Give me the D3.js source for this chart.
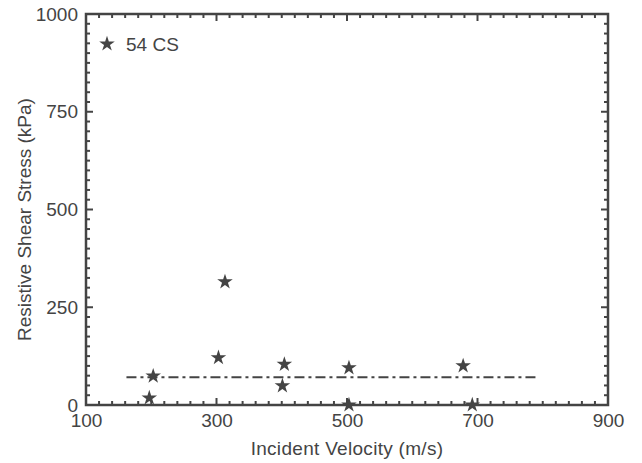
<!DOCTYPE html>
<html>
<head>
<meta charset="utf-8">
<script src="https://cdn.jsdelivr.net/npm/d3@7"></script>
<style>
body { margin: 0; background: #fff; }
text { font-family: "Liberation Sans", Arial, sans-serif; fill: #444; }
</style>
</head>
<body>
<div class="chart"></div>
<script>
const width = 642;
const height = 463;
const margin = {top: 14, right: 34, bottom: 58, left: 86};

// data
const velocity = [197, 203, 303, 313, 404, 401, 503, 503, 678, 692];
const stress = [18, 74, 121, 315, 104, 49, 95, 0, 100, 0];
const fitX = [162, 789];
const fitY = 71;
const xTicks = [100, 300, 500, 700, 900];
const yTicks = [0, 250, 500, 750, 1000];
const seriesName = "54 CS";

const ink = "#444";
const fontSize = 19;

const svg = d3.select(".chart").append("svg")
    .attr("width", width)
    .attr("height", height);

const x = d3.scaleLinear().domain([100, 900]).range([margin.left, width - margin.right]);
const y = d3.scaleLinear().domain([0, 1000]).range([height - margin.bottom, margin.top]);

const x0 = x.range()[0], x1 = x.range()[1];
const y0 = y.range()[0], y1 = y.range()[1];

// minor ticks (inward, all four sides)
const xMinor = d3.range(100, 901, 20);
const yMinor = d3.range(0, 1001, 25);
const ticks = svg.append("g").attr("stroke", ink).attr("stroke-width", 2);

xMinor.forEach(function(v) {
    const len = xTicks.includes(v) ? 7 : 4;
    ticks.append("line").attr("x1", x(v)).attr("x2", x(v)).attr("y1", y0).attr("y2", y0 - len);
    ticks.append("line").attr("x1", x(v)).attr("x2", x(v)).attr("y1", y1).attr("y2", y1 + len);
});
yMinor.forEach(function(v) {
    const len = yTicks.includes(v) ? 7 : 4;
    ticks.append("line").attr("x1", x0).attr("x2", x0 + len).attr("y1", y(v)).attr("y2", y(v));
    ticks.append("line").attr("x1", x1).attr("x2", x1 - len).attr("y1", y(v)).attr("y2", y(v));
});

// frame
svg.append("rect")
    .attr("x", x0).attr("y", y1)
    .attr("width", x1 - x0).attr("height", y0 - y1)
    .attr("fill", "none").attr("stroke", ink).attr("stroke-width", 2.5);

// tick labels via axes
const xAxis = svg.append("g")
    .attr("transform", "translate(0," + y0 + ")")
    .call(d3.axisBottom(x).tickValues(xTicks).tickFormat(d3.format("d")).tickSize(0).tickPadding(9));
const yAxis = svg.append("g")
    .attr("transform", "translate(" + x0 + ",0)")
    .call(d3.axisLeft(y).tickValues(yTicks).tickFormat(d3.format("d")).tickSize(0).tickPadding(8));
[xAxis, yAxis].forEach(function(a) {
    a.select(".domain").remove();
    a.selectAll("text").attr("font-size", fontSize).attr("fill", ink)
        .attr("font-family", "Liberation Sans, Arial, sans-serif");
});

// axis titles
svg.append("text")
    .attr("x", (x0 + x1) / 2).attr("y", 455)
    .attr("text-anchor", "middle").attr("font-size", fontSize)
    .attr("letter-spacing", 0.3)
    .text("Incident Velocity (m/s)");
svg.append("text")
    .attr("transform", "translate(31," + ((y0 + y1) / 2 + 10) + ") rotate(-90)")
    .attr("text-anchor", "middle").attr("font-size", fontSize)
    .text("Resistive Shear Stress (kPa)");

// dash-dot mean line
svg.append("line")
    .attr("x1", x(fitX[0])).attr("x2", x(fitX[1]))
    .attr("y1", y(fitY)).attr("y2", y(fitY))
    .attr("stroke", ink).attr("stroke-width", 2.2)
    .attr("stroke-dasharray", "10,4,3,4");

// stars
const star = d3.symbol().type(d3.symbolStar).size(75);
const pts = velocity.map(function(v, i) { return {v: v, s: stress[i]}; });
svg.append("g").selectAll("path").data(pts).enter().append("path")
    .attr("d", star)
    .attr("transform", function(d) { return "translate(" + x(d.v) + "," + y(d.s) + ")"; })
    .attr("fill", ink);

// legend
svg.append("path").attr("d", star)
    .attr("transform", "translate(107,44)")
    .attr("fill", ink);
svg.append("text")
    .attr("x", 126).attr("y", 51)
    .attr("font-size", fontSize)
    .text(seriesName);
</script>
</body>
</html>
